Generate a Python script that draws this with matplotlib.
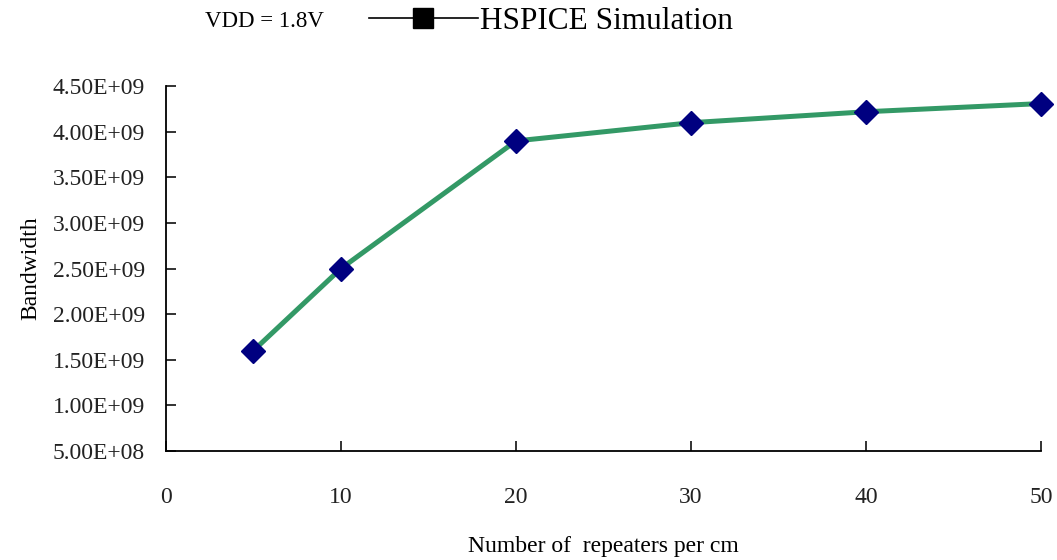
import matplotlib.pyplot as plt
from matplotlib.lines import Line2D
from matplotlib.ticker import FuncFormatter

plt.rcParams['font.family'] = 'Liberation Serif'

repeaters = [5, 10, 20, 30, 40, 50]
bandwidth = [1.6e9, 2.5e9, 3.9e9, 4.1e9, 4.22e9, 4.31e9]
y_ticks = [5e8, 1e9, 1.5e9, 2e9, 2.5e9, 3e9, 3.5e9, 4e9, 4.5e9]
x_ticks = [0, 10, 20, 30, 40, 50]

fig = plt.figure(figsize=(10.57, 5.6), dpi=100)
ax = fig.add_axes([0.157, 0.195, 0.828, 0.651])

ax.plot(repeaters, bandwidth, color="#339966", linewidth=3.6, marker="D",
        markersize=12, markerfacecolor="#000080", markeredgecolor="#000080",
        clip_on=False, zorder=3)

ax.set_xlim(0, 50)
ax.set_ylim(5e8, 4.5e9)
ax.set_xticks(x_ticks)
ax.set_yticks(y_ticks)
ax.yaxis.set_major_formatter(FuncFormatter(lambda v, p: f"{v:.2E}"))

for s in ["top", "right"]:
    ax.spines[s].set_visible(False)
ax.spines["left"].set_linewidth(1.3)
ax.spines["bottom"].set_linewidth(1.3)
ax.tick_params(axis="both", direction="in", length=7, width=1.3,
               labelsize=17, colors="#222222")
ax.tick_params(axis="x", pad=26)
ax.tick_params(axis="y", pad=15)

ax.set_xlabel("Number of  repeaters per cm", fontsize=17, labelpad=20)
ax.set_ylabel("Bandwidth", fontsize=17, labelpad=8)

fig.text(0.194, 0.962, "VDD = 1.8V", fontsize=16.5, va="center")
handle = Line2D([], [], color="black", linewidth=1.2, marker="s",
                markersize=14, markerfacecolor="black")
fig.legend([handle], ["HSPICE Simulation"], loc="center left",
           bbox_to_anchor=(0.337, 0.962), frameon=False, fontsize=22.5,
           handlelength=3.5, handletextpad=0.05, borderaxespad=0)

fig.savefig("out.png", dpi=100)
